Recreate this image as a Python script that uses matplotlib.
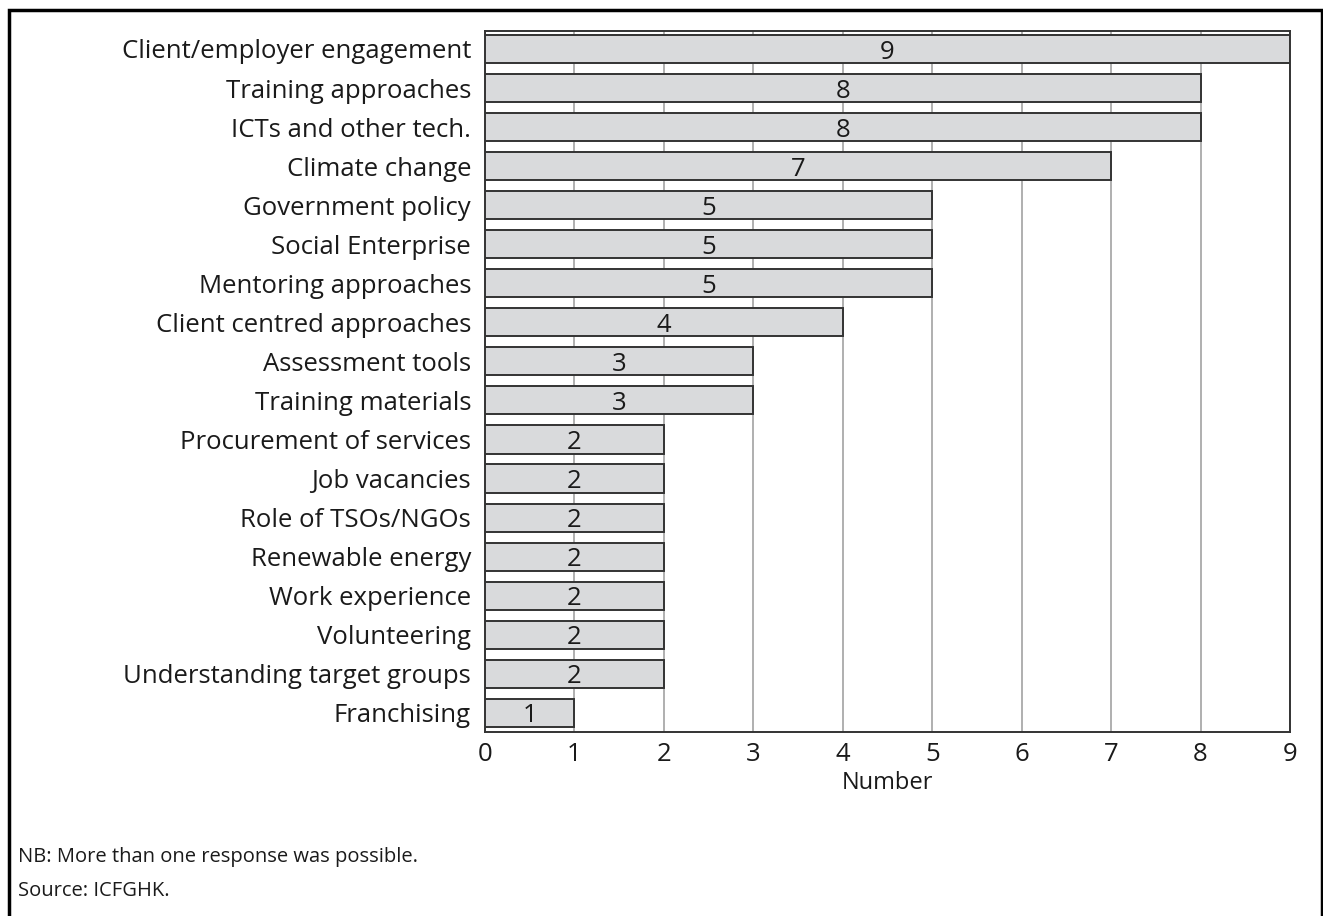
import matplotlib
matplotlib.use("Agg")
import matplotlib.pyplot as plt
from matplotlib.patches import Rectangle

plt.rcParams['font.family'] = ['Open Sans', 'DejaVu Sans']

categories = [
    "Client/employer engagement",
    "Training approaches",
    "ICTs and other tech.",
    "Climate change",
    "Government policy",
    "Social Enterprise",
    "Mentoring approaches",
    "Client centred approaches",
    "Assessment tools",
    "Training materials",
    "Procurement of services",
    "Job vacancies",
    "Role of TSOs/NGOs",
    "Renewable energy",
    "Work experience",
    "Volunteering",
    "Understanding target groups",
    "Franchising",
]
values = [9, 8, 8, 7, 5, 5, 5, 4, 3, 3, 2, 2, 2, 2, 2, 2, 2, 1]
x_ticks = [0, 1, 2, 3, 4, 5, 6, 7, 8, 9]

W, H = 1323, 916
fig = plt.figure(figsize=(W / 100, H / 100), dpi=100)
fig.patch.set_facecolor("white")

FS = 18.5
TXT = "#1a1a1a"

# axes placed in pixel terms
left, right, top, bottom = 485, 1290, 31, 732
ax = fig.add_axes([left / W, 1 - bottom / H, (right - left) / W, (bottom - top) / H])

ypos = list(range(len(categories)))
ax.barh(ypos, values, height=0.72, color="#d9dadc",
        edgecolor="#333333", linewidth=1.4, zorder=3)

# value labels sit in the middle of each bar
for y, v in zip(ypos, values):
    ax.text(v / 2, y + 0.08, str(v), ha="center", va="center",
            fontsize=FS, color=TXT, zorder=4)

ax.set_xlim(0, 9)
ax.set_ylim(17.49, -0.46)
ax.set_yticks(ypos)
ax.set_yticklabels(categories, fontsize=FS, color=TXT)
ax.set_xticks(x_ticks)
ax.set_xticklabels([str(t) for t in x_ticks], fontsize=FS, color=TXT)
ax.tick_params(axis="both", length=0)
ax.tick_params(axis="y", pad=10)
ax.tick_params(axis="x", pad=7)

ax.xaxis.grid(True, color="#9a9a9a", linewidth=1.1, zorder=0)
ax.yaxis.grid(False)
ax.set_axisbelow(True)
for s in ax.spines.values():
    s.set_color("#333333")
    s.set_linewidth(1.4)

ax.set_xlabel("Number", fontsize=17, fontweight=500, color=TXT, labelpad=3)

# notes under the chart
fig.text(18 / W, 1 - 857 / H, "NB: More than one response was possible.",
         fontsize=14.5, color=TXT, va="center", ha="left")
fig.text(18 / W, 1 - 891 / H, "Source: ICFGHK.",
         fontsize=14.5, color=TXT, va="center", ha="left")

# outer frame (open at the bottom edge)
frame = Rectangle((9 / W, -0.05), (1321.5 - 9) / W, 1.05 - 10.5 / H,
                  transform=fig.transFigure, fill=False,
                  edgecolor="black", linewidth=2.5, clip_on=False)
fig.add_artist(frame)

fig.savefig("out.png", dpi=100)
